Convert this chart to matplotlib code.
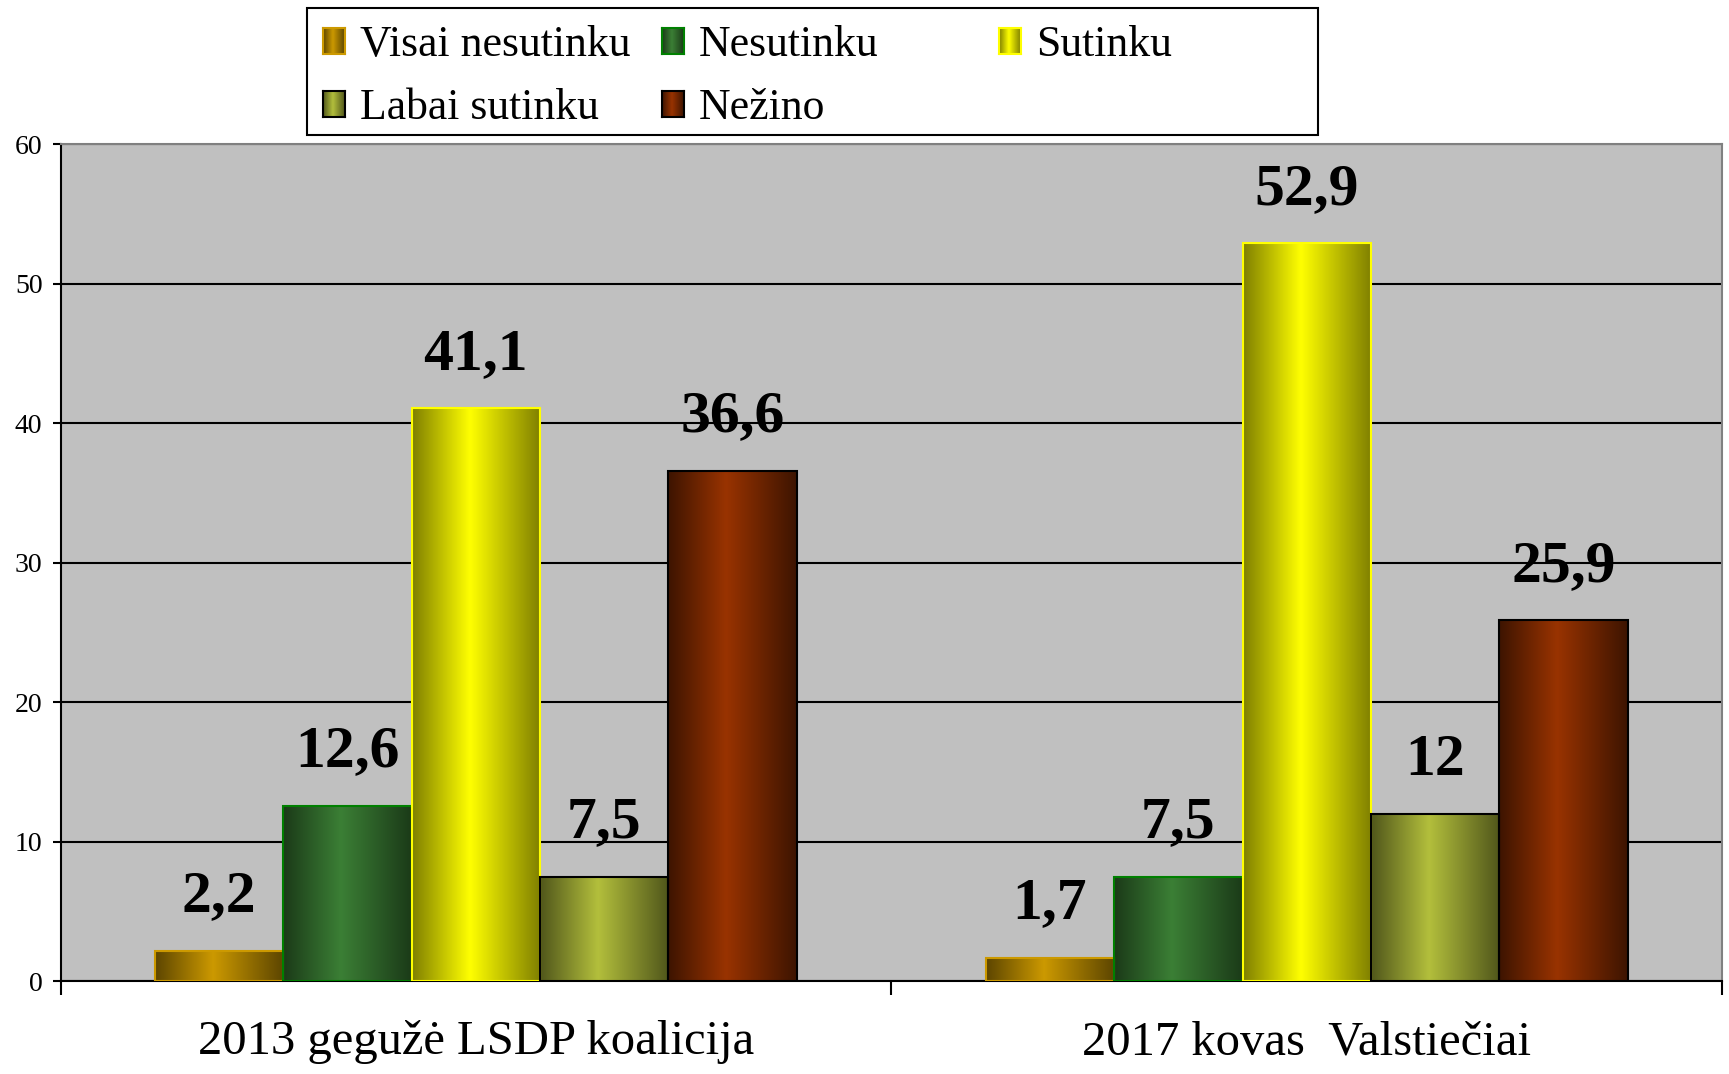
import numpy as np
import matplotlib
matplotlib.use('Agg')
import matplotlib.pyplot as plt
from matplotlib.colors import LinearSegmentedColormap
from matplotlib.patches import Rectangle

# dane
categories = ['2013 gegužė LSDP koalicija', '2017 kovas  Valstiečiai']
series = ['Visai nesutinku', 'Nesutinku', 'Sutinku', 'Labai sutinku', 'Nežino']
visai = [2.2, 1.7]
nesutinku = [12.6, 7.5]
sutinku = [41.1, 52.9]
labai = [7.5, 12]
nezino = [36.6, 25.9]
values = [visai, nesutinku, sutinku, labai, nezino]
yticks = [0, 10, 20, 30, 40, 50, 60]

bright = ['#cc9900', '#3b7f35', '#ffff00', '#b3bf3c', '#993300']
dark = ['#5c4500', '#1b3a18', '#7f7f00', '#50561b', '#3d1400']
edges = ['#cc9900', '#008000', '#ffff00', '#000000', '#000000']

plt.rcParams['font.family'] = ['Liberation Serif', 'DejaVu Serif']

fig = plt.figure(figsize=(17.29, 10.74), dpi=100)
ax = fig.add_axes([0.035, 0.0862, 0.961, 0.7793])
ax.set_facecolor('#c0c0c0')

x = np.arange(len(categories))
w = 0.1545
grad = np.linspace(0, 1, 256).reshape(1, -1)

cmaps = []
for i, name in enumerate(series):
    cm = LinearSegmentedColormap.from_list(
        name, [(0, dark[i]), (0.45, bright[i]), (1, dark[i])])
    cmaps.append(cm)
    bars = ax.bar(x + (i - 2) * w, values[i], w, facecolor='none',
                  edgecolor=edges[i], linewidth=1.5, zorder=4)
    for b, v in zip(bars, values[i]):
        x0 = b.get_x()
        ax.imshow(grad, extent=[x0, x0 + w, 0, v], aspect='auto',
                  cmap=cm, zorder=3, interpolation='bicubic')
        txt = ('%g' % v).replace('.', ',')
        ax.annotate(txt, (x0 + w / 2, v), xytext=(0, 19),
                    textcoords='offset points', ha='center', va='bottom',
                    fontsize=43, fontweight='bold', zorder=5)

ax.set_xlim(-0.5, 1.5)
ax.set_ylim(0, 60)
ax.set_yticks(yticks, [str(t) for t in yticks], fontsize=20)
ax.yaxis.grid(True, color='black', linewidth=1.5, zorder=1)
ax.set_axisbelow(True)
ax.tick_params(axis='y', length=6, width=1.5, pad=7, direction='out')

ax.set_xticks(x)
ax.set_xticklabels(categories, fontsize=35)
ax.tick_params(axis='x', which='major', length=0, pad=28)
ax.set_xticks([-0.5, 0.5, 1.5], minor=True)
ax.tick_params(axis='x', which='minor', length=10, width=1.5)

for s in ['left', 'bottom']:
    ax.spines[s].set_linewidth(1.5)
    ax.spines[s].set_color('black')
for s in ['top', 'right']:
    ax.spines[s].set_color('#808080')
    ax.spines[s].set_linewidth(1.5)

# legenda
W, H = 1729, 1074
fig.patches.append(Rectangle((306.5 / W, 1 - 134.5 / H), (1318 - 306.5) / W,
                             (134.5 - 7.7) / H, transform=fig.transFigure,
                             facecolor='white', edgecolor='black', linewidth=1.5,
                             zorder=-1))
slots = [(323, 40.8), (661.6, 40.8), (999, 40.8), (323, 103.7), (661.6, 103.7)]
for i, name in enumerate(series):
    mx, my = slots[i]
    lax = fig.add_axes([mx / W, 1 - (my + 13) / H, 22 / W, 26 / H])
    lax.set_zorder(3)
    lax.imshow(grad, aspect='auto', cmap=cmaps[i], interpolation='bicubic')
    lax.set_xticks([])
    lax.set_yticks([])
    for sp in lax.spines.values():
        sp.set_color(edges[i])
        sp.set_linewidth(1.5)
    fig.text((mx + 37) / W, 1 - my / H, name, fontsize=31.5, va='center_baseline', ha='left')

fig.savefig('out.png', dpi=100)
